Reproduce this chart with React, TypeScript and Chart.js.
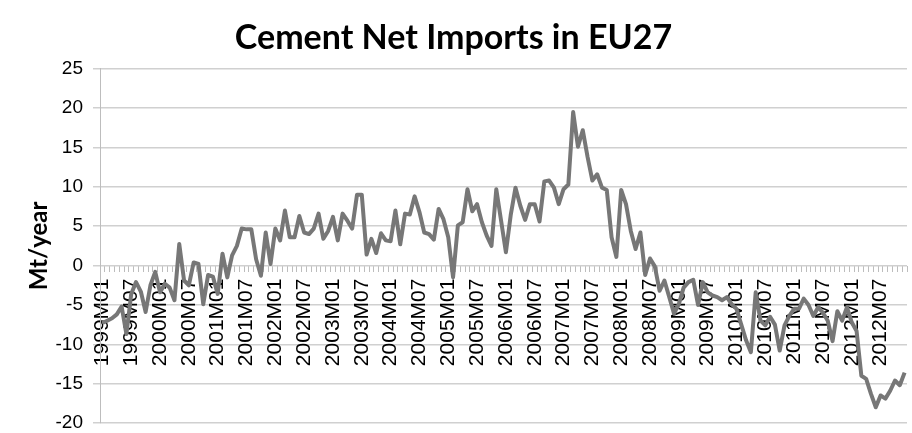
import React, { useEffect, useRef } from "react";
import { Chart, registerables } from "chart.js";

Chart.register(...registerables);

const TITLE = "Cement Net Imports in EU27";
const Y_TITLE = "Mt/year";
const YEARS = [1999, 2000, 2001, 2002, 2003, 2004, 2005, 2006, 2007, 2008, 2009, 2010, 2011, 2012];
const MONTHS = ["01", "02", "03", "04", "05", "06", "07", "08", "09", "10", "11", "12"];
const LABELED_MONTHS = ["01", "07"];
const CATEGORIES = YEARS.flatMap((y) => MONTHS.map((m) => `${y}M${m}`));

const Y_MIN = -20;
const Y_MAX = 25;
const Y_STEP = 5;

const IMPORTS_1999 = [-7.3, -7.0, -6.7, -6.2, -5.2, -8.7, -3.6, -2.1, -3.3, -5.9, -2.5, -0.8];
const IMPORTS_2000 = [-3.4, -2.3, -2.8, -4.4, 2.75, -1.9, -2.5, 0.4, 0.2, -4.9, -1.2, -1.4];
const IMPORTS_2001 = [-3.6, 1.5, -1.5, 1.3, 2.5, 4.7, 4.6, 4.6, 0.8, -1.3, 4.2, 0.2];
const IMPORTS_2002 = [4.7, 3.2, 7.0, 3.6, 3.6, 6.3, 4.2, 4.0, 4.7, 6.6, 3.4, 4.4];
const IMPORTS_2003 = [6.2, 3.2, 6.6, 5.7, 4.7, 9.0, 9.0, 1.4, 3.4, 1.6, 4.1, 3.2];
const IMPORTS_2004 = [3.1, 7.0, 2.7, 6.6, 6.5, 8.8, 6.8, 4.2, 4.0, 3.3, 7.2, 5.9];
const IMPORTS_2005 = [3.6, -1.5, 5.1, 5.5, 9.7, 6.9, 7.8, 5.5, 3.8, 2.5, 9.7, 5.7];
const IMPORTS_2006 = [1.7, 6.4, 9.9, 7.6, 5.8, 7.8, 7.8, 5.6, 10.7, 10.8, 9.9, 7.8];
const IMPORTS_2007 = [9.7, 10.3, 19.5, 15.1, 17.2, 13.8, 10.8, 11.6, 9.9, 9.6, 3.6, 1.1];
const IMPORTS_2008 = [9.6, 7.8, 4.4, 2.1, 4.2, -1.2, 0.9, -0.1, -3.2, -1.9, -4.0, -6.1];
const IMPORTS_2009 = [-4.9, -2.8, -2.1, -1.8, -5.0, -2.1, -3.4, -3.8, -4.0, -4.4, -4.0, -4.9];
const IMPORTS_2010 = [-5.5, -7.5, -9.5, -11.0, -3.4, -7.0, -7.6, -6.5, -7.5, -10.8, -7.6, -6.4];
const IMPORTS_2011 = [-5.5, -5.5, -4.2, -5.0, -6.4, -5.3, -6.0, -7.0, -9.6, -5.8, -7.0, -5.3];
const IMPORTS_2012 = [-7.2, -8.3, -14.0, -14.4, -16.3, -18.0, -16.5, -16.9, -15.9, -14.6, -15.2, -13.6];

const NET_IMPORTS = [
  ...IMPORTS_1999, ...IMPORTS_2000, ...IMPORTS_2001, ...IMPORTS_2002, ...IMPORTS_2003,
  ...IMPORTS_2004, ...IMPORTS_2005, ...IMPORTS_2006, ...IMPORTS_2007, ...IMPORTS_2008,
  ...IMPORTS_2009, ...IMPORTS_2010, ...IMPORTS_2011, ...IMPORTS_2012,
];

const TITLE_FONT = "Lato, 'Liberation Sans', sans-serif";
const TICK_FONT = "'Liberation Sans', Arial, sans-serif";

export default function App() {
  const canvasRef = useRef<HTMLCanvasElement | null>(null);

  useEffect(() => {
    if (!canvasRef.current) return;
    const chart = new Chart(canvasRef.current, {
      type: "line",
      data: {
        labels: CATEGORIES,
        datasets: [
          {
            label: "Net imports",
            data: NET_IMPORTS,
            borderColor: "#777777",
            borderWidth: 4,
            pointRadius: 0,
            tension: 0,
            fill: false,
            borderJoinStyle: "round",
          },
        ],
      },
      options: {
        responsive: true,
        maintainAspectRatio: false,
        animation: false,
        layout: { padding: { top: 0, right: 5, bottom: 10, left: 0 } },
        plugins: {
          legend: { display: false },
          tooltip: { enabled: false },
          title: {
            display: true,
            text: TITLE,
            color: "#000",
            font: { family: TITLE_FONT, size: 34, weight: "bold" },
            padding: { top: 18, bottom: 10 },
          },
        },
        scales: {
          x: {
            type: "category",
            position: { y: 0 } as any,
            offset: true,
            grid: {
              display: true,
              drawOnChartArea: false,
              drawTicks: true,
              tickLength: 6,
              color: "#bdbdbd",
              lineWidth: 1,
              offset: true,
            },
            border: { display: false },
            ticks: {
              autoSkip: false,
              minRotation: 90,
              maxRotation: 90,
              padding: 7,
              color: "#000",
              font: { family: TICK_FONT, size: 21 },
              callback: (_v: any, idx: number) => {
                const lab = CATEGORIES[idx];
                return LABELED_MONTHS.includes(lab.slice(5)) ? lab : "";
              },
            },
            afterFit: (s: any) => {
              s.height = 0;
              s.paddingLeft = 0;
              s.paddingRight = 0;
              s.paddingTop = 0;
              s.paddingBottom = 0;
            },
          },
          y: {
            min: Y_MIN,
            max: Y_MAX,
            ticks: {
              stepSize: Y_STEP,
              padding: 10,
              color: "#000",
              font: { family: TICK_FONT, size: 19 },
            },
            grid: { color: "#d0d0d0", lineWidth: 1.5, tickLength: 7 },
            border: { display: true, color: "#bdbdbd", width: 1 },
            title: {
              display: true,
              text: Y_TITLE,
              color: "#000",
              font: { family: TITLE_FONT, size: 24, weight: "bold" },
              padding: { top: 25, bottom: 0 },
            },
            afterFit: (s: any) => {
              s.width = 100;
              s.paddingTop = 0;
              s.paddingBottom = 0;
            },
          },
        },
      },
    });
    return () => chart.destroy();
  }, []);

  return (
    <div style={{ position: "absolute", left: 0, top: 0, width: 912, height: 433 }}>
      <canvas ref={canvasRef} />
    </div>
  );
}
